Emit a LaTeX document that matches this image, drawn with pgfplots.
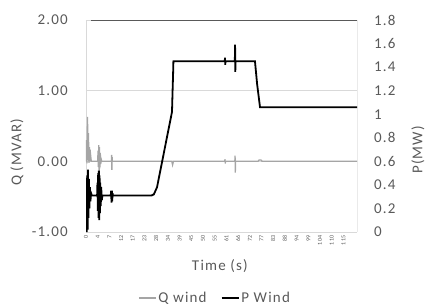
\documentclass[border=0pt]{standalone}
\usepackage{fontspec}
\setmainfont[LetterSpace=8]{Carlito}
\usepackage{pgfplots}
\pgfplotsset{compat=1.18}
\definecolor{qgray}{HTML}{A5A5A5}
\definecolor{txt}{HTML}{595959}
\definecolor{gridc}{HTML}{D9D9D9}
\definecolor{framec}{HTML}{595959}
\begin{document}
\begin{tikzpicture}
\useasboundingbox (-86bp,-75bp) rectangle (341bp,232bp);
\begin{axis}[
  at={(0,0)}, anchor=south west,
  scale only axis, width=271bp, height=212bp,
  xmin=0, xmax=23.16, ymin=-1, ymax=2,
  xtick={0,...,22},
  xticklabels={0,4,7,12,17,23,28,34,39,45,50,55,61,66,72,77,83,88,94,99,104,110,115},
  x tick label style={rotate=90, anchor=east, font=\fontsize{6bp}{7bp}\selectfont, text=txt, inner sep=0pt},
  xticklabel shift=3bp,
  ytick={-1,0,1,2},
  /pgf/number format/assume math mode=true,
  y tick label style={/pgf/number format/fixed, /pgf/number format/fixed zerofill, /pgf/number format/precision=2, text=txt, font=\fontsize{15bp}{18bp}\selectfont, inner sep=0pt},
  yticklabel shift=18bp,
  major tick length=0pt,
  ymajorgrids, grid style={gridc, line width=0.6bp},
  axis line style={draw=none},
  xlabel={Time (s)},
  xlabel style={at={(axis description cs:0.494,-0.160)}, anchor=center, text=txt, font=\fontsize{15bp}{18bp}\selectfont},
  ylabel={Q (MVAR)},
  ylabel style={at={(axis description cs:-0.2546,0.377)}, anchor=center, rotate=0, text=txt, font=\fontsize{15bp}{18bp}\selectfont},
]
\draw[gridc, line width=0.8bp] (rel axis cs:0,0) -- (rel axis cs:0,1);
\draw[framec, line width=0.8bp] (rel axis cs:0.02,1) -- (rel axis cs:1,1) -- (rel axis cs:1,0) -- (rel axis cs:0.015,0);
\addplot[qgray, line width=1.3bp] coordinates {
(0,0) (0.04,0.30) (0.08,-0.03) (0.13,0.63) (0.17,0.02) (0.21,0.40) (0.25,-0.02) (0.30,0.20) (0.35,0.0) (0.40,0.08) (0.45,0)
(1.00,0) (1.03,0.15) (1.06,-0.08) (1.09,0.23) (1.12,-0.15) (1.15,0.20) (1.18,-0.10) (1.22,0.12) (1.26,-0.04) (1.30,0.03) (1.35,0)
(2.17,0) (2.19,0.09) (2.21,-0.12) (2.23,0.06) (2.25,0)
(7.33,0) (7.40,-0.05) (7.47,0)
(11.86,0) (11.88,0.03) (11.90,-0.03) (11.92,0)
(12.72,0) (12.74,0.08) (12.76,-0.16) (12.78,0)
(14.70,0) (14.80,0.02) (14.95,0.02) (15.05,0) (23.16,0)
};
\end{axis}
\begin{axis}[
  at={(0,0)}, anchor=south west,
  scale only axis, width=271bp, height=212bp,
  xmin=0, xmax=23.16, ymin=0, ymax=1.8,
  axis x line=none, axis y line*=right,
  y axis line style={draw=none},
  ytick={0,0.2,0.4,0.6,0.8,1,1.2,1.4,1.6,1.8},
  yticklabels={0,0.2,0.4,0.6,0.8,1,1.2,1.4,1.6,1.8},
  y tick label style={text=txt, font=\fontsize{15bp}{18bp}\selectfont, inner sep=0pt},
  yticklabel shift=17bp,
  major tick length=0pt,
  ylabel={P(MW)},
  ylabel style={at={(axis description cs:1.225,0.387)}, anchor=center, rotate=0, text=txt, font=\fontsize{15bp}{18bp}\selectfont},
  legend columns=2,
  legend style={at={(axis description cs:0.476,-0.311)}, anchor=center, draw=none, fill=none, text=txt, font=\fontsize{15bp}{18bp}\selectfont, /tikz/every even column/.append style={column sep=12bp}},
  legend image code/.code={\draw[#1] (0bp,0bp) -- (17bp,0bp);},
]
\addlegendimage{qgray, line width=1.3bp}
\addlegendentry{Q wind}
\addplot[black, line width=1.8bp] coordinates {
(0,0) (0.03,0.40) (0.06,0.0) (0.10,0.48) (0.14,0.02) (0.17,0.53) (0.21,0.12) (0.25,0.45) (0.29,0.20) (0.33,0.38) (0.38,0.26) (0.43,0.33) (0.50,0.31)
(0.95,0.31) (0.98,0.42) (1.01,0.18) (1.04,0.50) (1.07,0.12) (1.10,0.52) (1.13,0.10) (1.16,0.48) (1.19,0.16) (1.22,0.42) (1.26,0.22) (1.30,0.38) (1.35,0.27) (1.40,0.31)
(2.12,0.31) (2.15,0.35) (2.18,0.25) (2.21,0.35) (2.24,0.26) (2.27,0.33) (2.30,0.31)
(5.60,0.31) (5.80,0.32) (6.07,0.38) (6.41,0.55) (6.75,0.72) (7.09,0.89) (7.35,1.02) (7.40,1.20) (7.44,1.33) (7.47,1.45)
(11.86,1.45) (11.88,1.48) (11.90,1.42) (11.92,1.45)
(12.72,1.45) (12.74,1.59) (12.76,1.36) (12.78,1.45)
(14.44,1.45) (14.62,1.26) (14.87,1.06) (23.16,1.06)
};
\addlegendentry{P Wind}
\end{axis}
\end{tikzpicture}
\end{document}
